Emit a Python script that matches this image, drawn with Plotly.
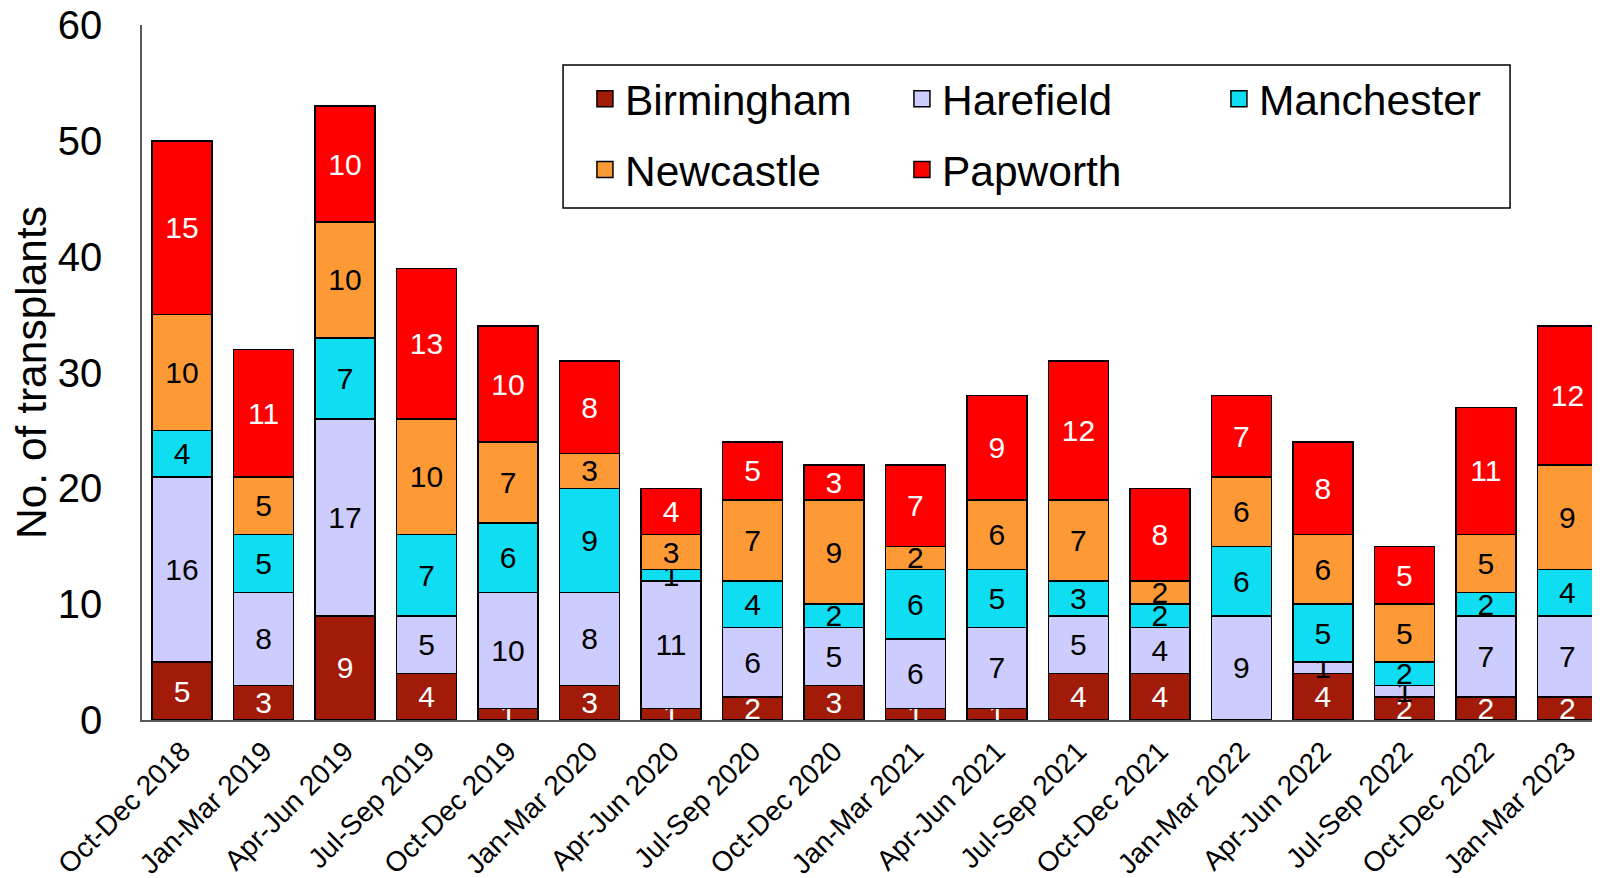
import plotly.graph_objects as go

categories = ["Oct-Dec 2018", "Jan-Mar 2019", "Apr-Jun 2019", "Jul-Sep 2019",
              "Oct-Dec 2019", "Jan-Mar 2020", "Apr-Jun 2020", "Jul-Sep 2020",
              "Oct-Dec 2020", "Jan-Mar 2021", "Apr-Jun 2021", "Jul-Sep 2021",
              "Oct-Dec 2021", "Jan-Mar 2022", "Apr-Jun 2022", "Jul-Sep 2022",
              "Oct-Dec 2022", "Jan-Mar 2023"]

birmingham = [5, 3, 9, 4, 1, 3, 1, 2, 3, 1, 1, 4, 4, 0, 4, 2, 2, 2]
harefield = [16, 8, 17, 5, 10, 8, 11, 6, 5, 6, 7, 5, 4, 9, 1, 1, 7, 7]
manchester = [4, 5, 7, 7, 6, 9, 1, 4, 2, 6, 5, 3, 2, 6, 5, 2, 2, 4]
newcastle = [10, 5, 10, 10, 7, 3, 3, 7, 9, 2, 6, 7, 2, 6, 6, 5, 5, 9]
papworth = [15, 11, 10, 13, 10, 8, 4, 5, 3, 7, 9, 12, 8, 7, 8, 5, 11, 12]

y_ticks = [0, 10, 20, 30, 40, 50, 60]

series = [
    ("Birmingham", birmingham, "#A21A08", "white", "legend"),
    ("Harefield", harefield, "#CCCCFF", "black", "legend"),
    ("Manchester", manchester, "#0EDDF2", "black", "legend"),
    ("Newcastle", newcastle, "#FD9A36", "black", "legend2"),
    ("Papworth", papworth, "#FF0000", "white", "legend2"),
]

FONT = "Liberation Sans, Arial, sans-serif"

fig = go.Figure()
for name, vals, color, tcol, lg in series:
    fig.add_trace(go.Bar(
        x=categories, y=vals, name=name,
        marker=dict(color=color, line=dict(color="black", width=1.5)),
        text=[str(v) for v in vals],
        textposition="inside", insidetextanchor="middle", textangle=0,
        textfont=dict(family=FONT, size=30, color=tcol),
        showlegend=False, hoverinfo="skip",
    ))

# legend proxies (larger square swatches)
for name, vals, color, tcol, lg in series:
    fig.add_trace(go.Scatter(
        x=[None], y=[None], mode="markers", name=name,
        marker=dict(symbol="square", size=16, color=color,
                    line=dict(color="black", width=1.5)),
        showlegend=True, hoverinfo="skip", legend=lg,
    ))

legend_common = dict(
    orientation="h",
    xanchor="left", yanchor="middle",
    bgcolor="rgba(0,0,0,0)", borderwidth=0,
    font=dict(family=FONT, size=42.5, color="black"),
    entrywidth=272, entrywidthmode="pixels",
    traceorder="normal",
    itemsizing="trace",
)

fig.update_layout(
    barmode="stack",
    bargap=0.264,
    width=1592, height=870,
    margin=dict(l=134, r=0, t=17, b=158),
    paper_bgcolor="white", plot_bgcolor="white",
    font=dict(family=FONT, color="black"),
    uniformtext=dict(minsize=30, mode="show"),
    legend=dict(x=0.3038, y=0.8935, **legend_common),
    legend2=dict(x=0.3038, y=0.7914, **legend_common),
    shapes=[dict(type="rect", xref="paper", yref="paper",
                 x0=0.2888, x1=0.9383, y0=0.7367, y1=0.9424,
                 line=dict(color="black", width=1.5),
                 fillcolor="white", layer="below")],
    xaxis=dict(
        range=[-0.491, 17.4],
        tickangle=-45,
        tickfont=dict(family=FONT, size=28, color="black"),
        showline=True, linecolor="#595959", linewidth=1.5,
        ticks="", showgrid=False, zeroline=False,
        ticklabelstandoff=2, automargin=False,
    ),
    yaxis=dict(
        range=[0, 60],
        tickvals=y_ticks,
        tickfont=dict(family=FONT, size=40, color="black"),
        showline=True, linecolor="#595959", linewidth=1.5,
        ticks="", showgrid=False, zeroline=False,
        ticklabelstandoff=30, automargin=False,
        ticklabeloverflow="allow",
        title=dict(text="No. of transplants",
                   font=dict(family=FONT, size=42.5, color="black"),
                   standoff=12),
    ),
)

fig.write_html("out.html", config={"displayModeBar": False})
